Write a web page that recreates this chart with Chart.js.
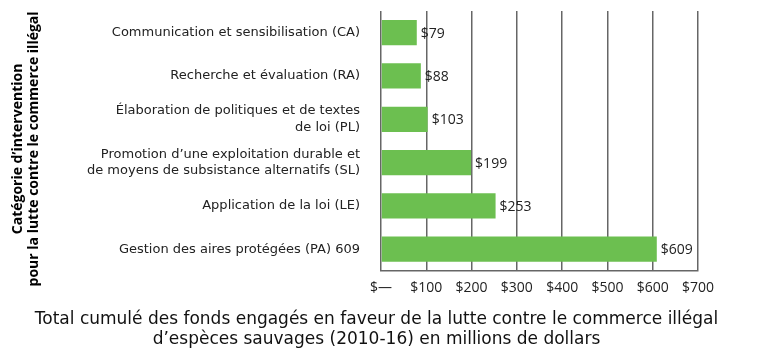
<!DOCTYPE html>
<html>
<head>
<meta charset="utf-8">
<script src="https://cdn.jsdelivr.net/npm/chart.js@4/dist/chart.umd.min.js"></script>
<style>
html,body{margin:0;padding:0;background:#fff;}
#wrap{width:760px;height:355px;position:relative;}
</style>
</head>
<body>
<div id="wrap"><canvas id="c" width="760" height="355"></canvas></div>
<script>
const categories = [
  ["Communication et sensibilisation (CA)"],
  ["Recherche et évaluation (RA)"],
  ["Élaboration de politiques et de textes", "de loi (PL)"],
  ["Promotion d\u2019une exploitation durable et", "de moyens de subsistance alternatifs (SL)"],
  ["Application de la loi (LE)"],
  ["Gestion des aires protégées (PA) 609"]
];
const values = [79, 88, 103, 199, 253, 609];
const valueLabels = ["$79", "$88", "$103", "$199", "$253", "$609"];
const tickLabels = ["$\u2014", "$100", "$200", "$300", "$400", "$500", "$600", "$700"];
const yTitle = ["Catégorie d\u2019intervention", "pour la lutte contre le commerce illégal"];
const xTitle = ["Total cumulé des fonds engagés en faveur de la lutte contre le commerce illégal",
                "d\u2019espèces sauvages (2010-16) en millions de dollars"];

const valueLabelPlugin = {
  id: 'valueLabels',
  afterDatasetsDraw(chart) {
    const ctx = chart.ctx;
    const meta = chart.getDatasetMeta(0);
    ctx.save();
    ctx.font = '14px "Open Sans"';
    ctx.fillStyle = '#222';
    ctx.textAlign = 'left';
    ctx.textBaseline = 'middle';
    meta.data.forEach((bar, i) => {
      ctx.fillText(valueLabels[i], bar.x + 4, bar.y + 1);
    });
    ctx.restore();
  }
};

const yTitlePlugin = {
  id: 'yTitle',
  afterDraw(chart) {
    const ctx = chart.ctx;
    ctx.save();
    ctx.font = 'bold 14px "Open Sans"';
    ctx.fillStyle = '#000';
    ctx.textAlign = 'center';
    ctx.textBaseline = 'middle';
    const cy = (chart.chartArea.top + chart.chartArea.bottom) / 2 + 8;
    ctx.translate(18, cy);
    ctx.rotate(-Math.PI / 2);
    ctx.fillText(yTitle[0], 0, 0);
    ctx.fillText(yTitle[1], 0, 16);
    ctx.restore();
  }
};

new Chart(document.getElementById('c'), {
  type: 'bar',
  data: {
    labels: categories,
    datasets: [{
      data: values,
      backgroundColor: '#6cbf50',
      borderWidth: 0,
      barPercentage: 0.73,
      categoryPercentage: 0.8
    }]
  },
  options: {
    indexAxis: 'y',
    responsive: false,
    animation: false,
    layout: { padding: { top: 11, right: 7, bottom: 2, left: 0 } },
    plugins: {
      legend: { display: false },
      tooltip: { enabled: false },
      title: {
        display: true,
        position: 'bottom',
        text: xTitle,
        color: '#111',
        font: { family: '"DejaVu Sans"', size: 17, weight: 'normal', lineHeight: 1.18 },
        padding: { top: 11, bottom: 3 }
      }
    },
    scales: {
      x: {
        min: 0,
        max: 700,
        ticks: {
          stepSize: 100,
          padding: 9,
          color: '#222',
          font: { family: '"Open Sans"', size: 14 },
          callback: (v, i) => tickLabels[i]
        },
        grid: { color: '#666', lineWidth: 1.5, drawTicks: false },
        border: { display: true, color: '#666', width: 1.5 },
        afterFit: (s) => { s.height = 28; s.paddingRight = 62; s.paddingLeft = 0; }
      },
      y: {
        ticks: {
          padding: 21,
          color: '#222',
          font: { family: '"DejaVu Sans"', size: 13, lineHeight: 1.3 }
        },
        grid: { display: false, drawTicks: false },
        border: { display: false },
        afterFit: (s) => { s.width = 381; s.paddingTop = 0; s.paddingBottom = 0; }
      }
    }
  },
  plugins: [valueLabelPlugin, yTitlePlugin]
});
</script>
</body>
</html>
